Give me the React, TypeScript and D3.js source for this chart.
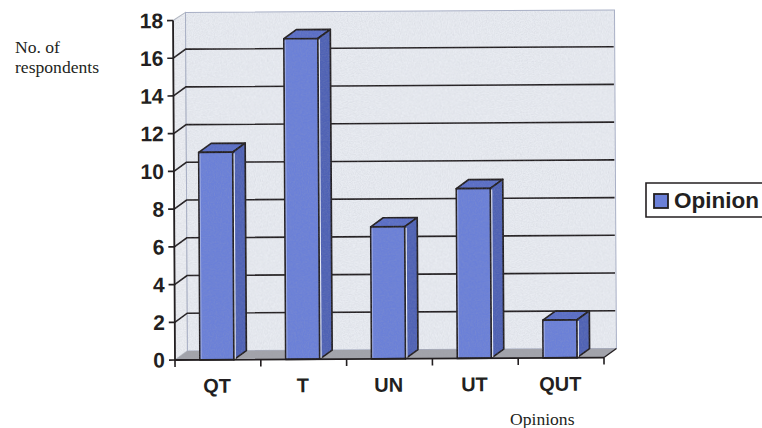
import React from "react";
import * as d3 from "d3";

const categories = ["QT", "T", "UN", "UT", "QUT"];
const respondents = [11, 17, 7, 9, 2];
const yTicks = [0, 2, 4, 6, 8, 10, 12, 14, 16, 18];
const legendLabel = "Opinion";

const W = 762;
const H = 428;
const originX = 175;
const originY = 360;
const plotWidth = 429;
const depthX = 12.5;
const depthY = 9;
const barWidth = 34;

const x = d3.scaleBand<string>().domain(categories).range([originX - 1, originX + plotWidth - 1]);
const y = d3.scaleLinear().domain([0, 18]).range([originY, originY - 339.5]);
const poly = d3.line<[number, number]>().curve(d3.curveLinearClosed);

const ink = "#231f21";
const wall = "#e8ebf1";
const sideWall = "#ebedf2";
const floor = "#a2a3aa";
const barFront = "#6b80d8";
const barTop = "#5a6ec6";
const barSide = "#4f62b5";
const sans = "'Liberation Sans', Arial, sans-serif";
const serif = "'Liberation Serif', 'Times New Roman', serif";

export default function App() {
  const x0 = originX;
  const x1 = originX + plotWidth;
  const y18 = y(18);
  const y0 = y(0);
  const wallTop = y18 - depthY + 1;
  return (
    <svg width={W} height={H} viewBox={`0 0 ${W} ${H}`} style={{ position: "fixed", left: 0, top: 0, background: "#fff" }}>
      <defs>
        <filter id="grain" x="0" y="0" width="100%" height="100%">
          <feTurbulence type="fractalNoise" baseFrequency="0.85" numOctaves={2} seed={4} />
          <feColorMatrix values="0 0 0 0 0.40  0 0 0 0 0.42  0 0 0 0 0.48  1.6 0 0 0 -0.6" />
        </filter>
        <clipPath id="chartArea">
          <path d={poly([[x0, y18], [x0 + depthX, wallTop], [x1 + depthX, wallTop], [x1 + depthX, y0 - depthY], [x1, y0], [x0, y0]]) ?? ""} />
        </clipPath>
      </defs>

      <g transform={`rotate(-0.33 ${originX} ${originY})`}>
        {/* walls and floor */}
        <path d={poly([[x0, y18], [x0 + depthX, wallTop], [x0 + depthX, y0 - depthY], [x0, y0]]) ?? ""} fill={sideWall} stroke="#b4b9c4" strokeWidth={1} />
        <rect x={x0 + depthX} y={wallTop} width={plotWidth} height={y0 - depthY - wallTop} fill={wall} stroke="#a9b0c6" strokeWidth={1} />
        <path d={poly([[x0, y0], [x0 + depthX, y0 - depthY], [x1 + depthX, y0 - depthY], [x1, y0]]) ?? ""} fill={floor} />

        {/* gridlines run along the side wall and across the back wall */}
        {yTicks.filter((t) => t > 0 && t < 18).map((t) => (
          <path key={t} d={`M${x0},${y(t)}L${x0 + depthX},${y(t) - depthY}H${x1 + depthX - 1}`} fill="none" stroke={ink} strokeWidth={1.6} />
        ))}

        {/* bars */}
        {categories.map((c, i) => {
          const left = (x(c) ?? 0) + (x.bandwidth() - barWidth) / 2;
          const right = left + barWidth;
          const top = y(respondents[i]);
          return (
            <g key={c} stroke={ink} strokeWidth={1.7} strokeLinejoin="round">
              <path d={poly([[left, top], [left + depthX, top - depthY], [right + depthX, top - depthY], [right, top]]) ?? ""} fill={barTop} />
              <path d={poly([[right, top], [right + depthX, top - depthY], [right + depthX, y0 - depthY], [right, y0]]) ?? ""} fill={barSide} />
              <rect x={left} y={top} width={barWidth} height={y0 - top} fill={barFront} />
              <line x1={right + 1.4} x2={right + 1.4} y1={top + 1} y2={y0 - 1} stroke="#e8ecf8" strokeWidth={1.1} />
              <line x1={left + 1.3} x2={left + 1.3} y1={top + 1.5} y2={y0 - 1} stroke="#aab6ea" strokeWidth={0.8} />
            </g>
          );
        })}

        {/* print grain over the plotted area */}
        <rect x={x0} y={wallTop} width={plotWidth + depthX} height={y0 - wallTop} filter="url(#grain)" clipPath="url(#chartArea)" opacity={0.28} />

        {/* axes */}
        <path d={`M${x0},${y18}V${y0}H${x1}`} fill="none" stroke={ink} strokeWidth={1.8} />
        <path d={`M${x1},${y0}L${x1 + depthX},${y0 - depthY}`} fill="none" stroke={ink} strokeWidth={1.3} />
        {yTicks.map((t) => (
          <g key={t}>
            <line x1={x0 - 6} x2={x0} y1={y(t)} y2={y(t)} stroke={ink} strokeWidth={1.7} />
            <text x={x0 - 10} y={y(t) + 7.5} textAnchor="end" fontFamily={sans} fontWeight={700} fontSize={21} fill={ink}>{t}</text>
          </g>
        ))}
        {d3.range(categories.length + 1).map((i) => {
          const tx = x0 + (i * plotWidth) / categories.length;
          return <line key={i} x1={tx} x2={tx} y1={y0} y2={y0 + 7} stroke={ink} strokeWidth={1.6} />;
        })}
        {categories.map((c) => (
          <text key={c} x={(x(c) ?? 0) + x.bandwidth() / 2} y={393} textAnchor="middle" fontFamily={sans} fontWeight={700} fontSize={20} fill={ink}>{c}</text>
        ))}
      </g>

      {/* legend, running off the right side of the page */}
      <path d="M762,183H646V217H762" fill="none" stroke={ink} strokeWidth={1.6} />
      <rect x={654} y={194} width={14} height={14} fill={barFront} stroke={ink} strokeWidth={1.8} />
      <text x={674} y={207.5} fontFamily={sans} fontWeight={700} fontSize={22.5} fill={ink}>{legendLabel}</text>

      {/* axis titles */}
      <text x={15} y={53} fontFamily={serif} fontSize={17.6} fill={ink}>No. of</text>
      <text x={15} y={73} fontFamily={serif} fontSize={17.6} fill={ink}>respondents</text>
      <text x={510} y={425} fontFamily={serif} fontSize={17.6} fill={ink}>Opinions</text>
    </svg>
  );
}
